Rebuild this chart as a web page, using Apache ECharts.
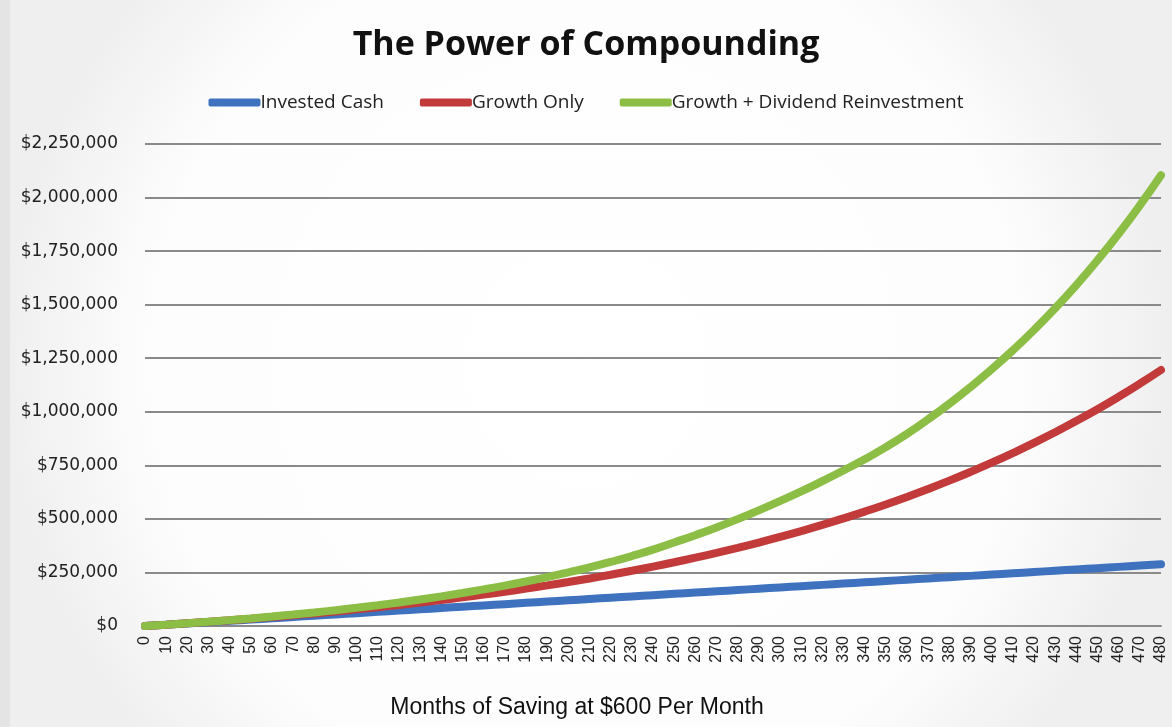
<!DOCTYPE html>
<html>
<head>
<meta charset="utf-8">
<script src="https://cdn.jsdelivr.net/npm/echarts@6/dist/echarts.min.js"></script>
<style>
  html, body { margin: 0; padding: 0; }
  #chart { width: 1172px; height: 727px; }
</style>
</head>
<body>
<div id="chart"></div>
<script>
// months, every 10
const months = [0, 10, 20, 30, 40, 50, 60, 70, 80, 90, 100, 110, 120, 130, 140, 150, 160, 170, 180, 190,
  200, 210, 220, 230, 240, 250, 260, 270, 280, 290, 300, 310, 320, 330, 340, 350, 360, 370, 380, 390,
  400, 410, 420, 430, 440, 450, 460, 470, 480]

const investedCash = [0, 6000, 12000, 18000, 24000, 30000, 36000, 42000, 48000, 54000, 60000, 66000,
  72000, 78000, 84000, 90000, 96000, 102000, 108000, 114000, 120000, 126000, 132000, 138000, 144000,
  150000, 156000, 162000, 168000, 174000, 180000, 186000, 192000, 198000, 204000, 210000, 216000,
  222000, 228000, 234000, 240000, 246000, 252000, 258000, 264000, 270000, 276000, 282000, 288000]

const growthOnly = [0, 6100, 12600, 19400, 26500, 34000, 41900, 50100, 58800, 68000, 77600, 87700,
  98300, 109500, 121200, 133600, 146500, 160200, 174500, 189600, 205400, 222000, 239500, 257900,
  277200, 297500, 318900, 341300, 364900, 389700, 415800, 443200, 472000, 502300, 534100, 567500,
  602700, 639700, 678500, 719400, 762300, 807400, 854800, 904700, 957100, 1012000, 1070000, 1131000,
  1195000]

const growthDividend = [0, 6200, 12800, 19900, 27400, 35500, 44100, 53300, 63200, 73700, 85000, 97000,
  109900, 123600, 138300, 154000, 170800, 188700, 207900, 228400, 250300, 273700, 299000, 326500,
  356500, 390000, 424000, 460000, 499000, 540000, 583000, 628000, 676000, 726000, 778000, 835000,
  897200, 965100, 1037700, 1115400, 1198300, 1287000, 1381800, 1483100, 1591400, 1707200, 1830900,
  1963100, 2104000]

const yTicks = [0, 250000, 500000, 750000, 1000000, 1250000, 1500000, 1750000, 2000000, 2250000]

const chart = echarts.init(document.getElementById('chart'))

const lineSeries = (name, data, color) => ({
  name,
  type: 'line',
  data,
  smooth: true,
  showSymbol: false,
  symbol: 'none',
  lineStyle: { width: 8, color, cap: 'round' },
  itemStyle: { color }
})

chart.setOption({
  backgroundColor: {
    type: 'radial', x: 0.5, y: 0.5, r: 0.8,
    colorStops: [
      { offset: 0, color: '#ffffff' },
      { offset: 0.75, color: '#fdfdfd' },
      { offset: 1, color: '#efefef' }
    ]
  },
  animation: false,
  graphic: [
    { type: 'rect', left: 0, top: 0, shape: { width: 10, height: 727 }, style: { fill: '#e4e4e4' }, silent: true }
  ],
  title: {
    text: 'The Power of Compounding',
    left: 'center',
    top: 23,
    textStyle: { fontFamily: 'Open Sans', fontWeight: 'bold', fontSize: 34, color: '#111' }
  },
  legend: {
    top: 88,
    left: 'center',
    itemWidth: 52,
    itemHeight: 8,
    itemGap: 36,
    icon: 'roundRect',
    textStyle: { fontFamily: 'Open Sans', fontSize: 19, color: '#222', padding: [0, 0, 0, -5] }
  },
  grid: { left: 145, right: 11, top: 144, bottom: 101 },
  xAxis: {
    type: 'category',
    data: months,
    boundaryGap: false,
    name: 'Months of Saving at $600 Per Month',
    nameLocation: 'middle',
    nameGap: 70,
    nameTextStyle: { fontFamily: 'Liberation Sans', fontSize: 23, color: '#111', padding: [0, 152, 0, 0] },
    axisLine: { lineStyle: { color: '#8a8a8a', width: 2 } },
    axisTick: { show: false },
    axisLabel: {
      rotate: 90,
      interval: 0,
      margin: 10,
      fontFamily: 'Liberation Sans',
      fontSize: 16,
      color: '#222'
    }
  },
  yAxis: {
    type: 'value',
    min: yTicks[0],
    max: yTicks[yTicks.length - 1],
    interval: 250000,
    axisLine: { show: false },
    axisTick: { show: false },
    splitLine: { lineStyle: { color: '#8a8a8a', width: 2 } },
    axisLabel: {
      margin: 27,
      fontFamily: 'DejaVu Sans',
      fontSize: 17,
      color: '#222',
      formatter: (v) => '$' + v.toLocaleString('en-US')
    }
  },
  series: [
    lineSeries('Invested Cash', investedCash, '#3e72bf'),
    lineSeries('Growth Only', growthOnly, '#c23a3a'),
    lineSeries('Growth + Dividend Reinvestment', growthDividend, '#8cbd45')
  ]
})
</script>
</body>
</html>
